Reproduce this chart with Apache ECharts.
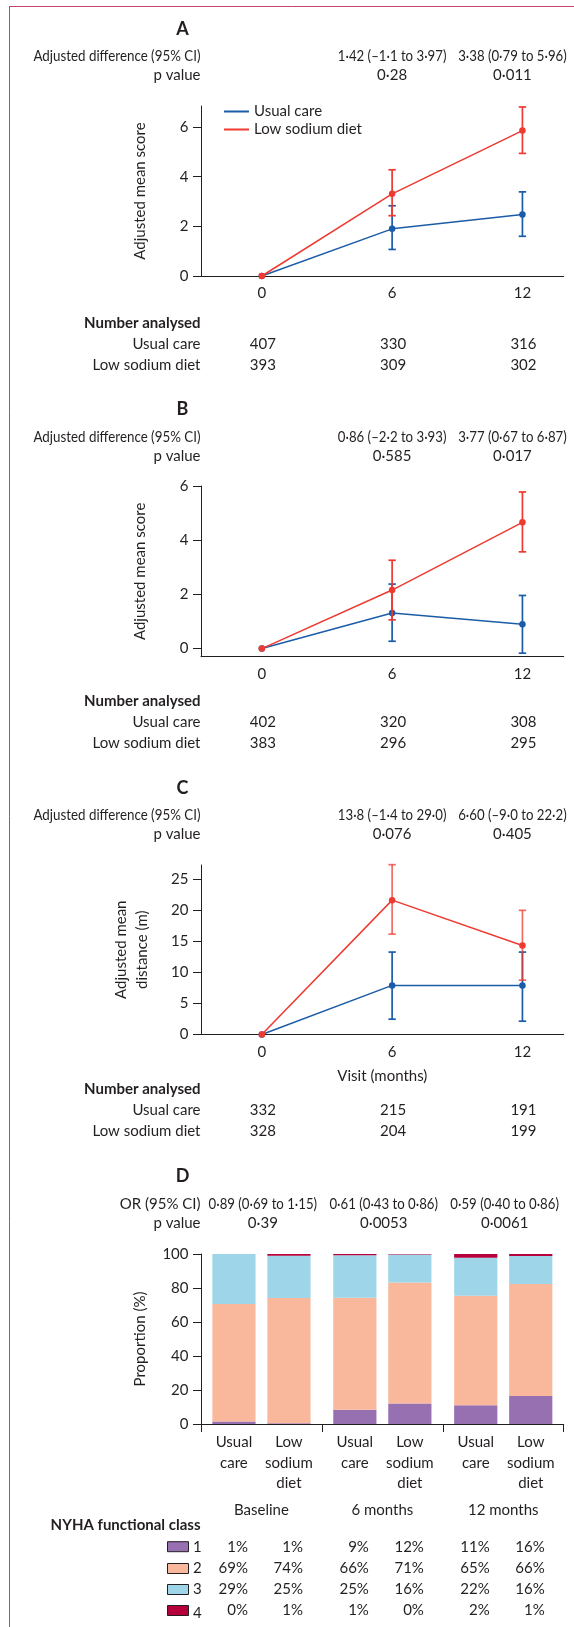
<!DOCTYPE html>
<html><head><meta charset="utf-8">
<script src="https://cdn.jsdelivr.net/npm/echarts@6/dist/echarts.min.js"></script>
<style>html,body{margin:0;padding:0;background:#fff}#c{width:574px;height:1627px}</style>
</head><body><div id="c"></div>
<script>
// ---------- DATA ----------
const months = [0, 6, 12];
const monthTicks = [0, 6, 12];

// Panel A
const aUsual = [0, 1.90, 2.48], aUsualLo = [null, 1.07, 1.60], aUsualHi = [null, 2.83, 3.39];
const aLow = [0, 3.31, 5.86], aLowLo = [null, 2.43, 4.94], aLowHi = [null, 4.28, 6.81];
const aTicks = [0, 2, 4, 6];
const aDiff = ['1·42 (–1·1 to 3·97)', '3·38 (0·79 to 5·96)'];
const aP = ['0·28', '0·011'];
const aNUsual = ['407', '330', '316'], aNLow = ['393', '309', '302'];

// Panel B
const bUsual = [0, 1.31, 0.90], bUsualLo = [null, 0.27, -0.17], bUsualHi = [null, 2.38, 1.96];
const bLow = [0, 2.16, 4.66], bLowLo = [null, 1.06, 3.57], bLowHi = [null, 3.26, 5.78];
const bTicks = [0, 2, 4, 6];
const bDiff = ['0·86 (–2·2 to 3·93)', '3·77 (0·67 to 6·87)'];
const bP = ['0·585', '0·017'];
const bNUsual = ['402', '320', '308'], bNLow = ['383', '296', '295'];

// Panel C
const cUsual = [0, 7.89, 7.89], cUsualLo = [null, 2.46, 2.14], cUsualHi = [null, 13.25, 13.25];
const cLow = [0, 21.6, 14.32], cLowLo = [null, 16.14, 8.74], cLowHi = [null, 27.3, 19.96];
const cTicks = [0, 5, 10, 15, 20, 25];
const cDiff = ['13·8 (–1·4 to 29·0)', '6·60 (–9·0 to 22·2)'];
const cP = ['0·076', '0·405'];
const cNUsual = ['332', '215', '191'], cNLow = ['328', '204', '199'];

// Panel D (bars: usual/low per visit)
const visits = ['Baseline', '6 months', '12 months'];
const dOR = ['0·89 (0·69 to 1·15)', '0·61 (0·43 to 0·86)', '0·59 (0·40 to 0·86)'];
const dP = ['0·39', '0·0053', '0·0061'];
const nyhaClasses = ['1', '2', '3', '4'];
// bar order: usual baseline, low baseline, usual 6m, low 6m, usual 12m, low 12m
const nyha1 = [1.4, 0.4, 8.4, 12.1, 11.0, 16.5];
const nyha2 = [69.2, 73.7, 65.9, 71.2, 64.5, 65.9];
const nyha3 = [29.4, 24.9, 24.9, 16.4, 22.3, 16.4];
const nyha4 = [0, 1.0, 0.8, 0.3, 2.2, 1.2];
const nyha1Lbl = ['1%', '1%', '9%', '12%', '11%', '16%'];
const nyha2Lbl = ['69%', '74%', '66%', '71%', '65%', '66%'];
const nyha3Lbl = ['29%', '25%', '25%', '16%', '22%', '16%'];
const nyha4Lbl = ['0%', '1%', '1%', '0%', '2%', '1%'];
const dTicks = [0, 20, 40, 60, 80, 100];

// ---------- STYLE ----------
const FONT = 'Lato';
const INK = '#231f20';
const BLUE = '#1b5ca8';
const RED = '#ee3a31';
const NYHA_COLORS = ['#9670b0', '#f9b89c', '#9ed5e8', '#b5003b'];
const FS = 15;
const GL = 201, GW = 362.7;

const chart = echarts.init(document.getElementById('c'), null, {renderer: 'canvas', width: 574, height: 1627});

function pairs(ys) { return months.map((m, i) => [m, ys[i]]); }
function errs(lo, hi) { return months.map((m, i) => lo[i] == null ? null : [m, lo[i], hi[i]]).filter(Boolean); }
function errRender(color, opacity) {
  return function (params, api) {
    const x = api.value(0), lo = api.value(1), hi = api.value(2);
    const p1 = api.coord([x, hi]), p2 = api.coord([x, lo]);
    const w = 3.7;
    const style = {stroke: color, lineWidth: 1.7, opacity: opacity};
    return {type: 'group', children: [
      {type: 'line', shape: {x1: p1[0], y1: p1[1], x2: p2[0], y2: p2[1]}, style: style},
      {type: 'line', shape: {x1: p1[0] - w, y1: p1[1], x2: p1[0] + w, y2: p1[1]}, style: style},
      {type: 'line', shape: {x1: p2[0] - w, y1: p2[1], x2: p2[0] + w, y2: p2[1]}, style: style}
    ]};
  };
}
function lineSeries(name, color, ys, idx, z) {
  return {type: 'line', name: name, xAxisIndex: idx, yAxisIndex: idx, data: pairs(ys),
    symbol: 'circle', symbolSize: 6.5, showSymbol: true, lineStyle: {width: 1.5, color: color},
    itemStyle: {color: color}, z: z, silent: true};
}
function errSeries(color, lo, hi, idx, z, opacity) {
  return {type: 'custom', xAxisIndex: idx, yAxisIndex: idx, data: errs(lo, hi),
    renderItem: errRender(color, opacity == null ? 1 : opacity), encode: {x: 0, y: [1, 2]}, z: z, silent: true};
}
const labelBase = {color: INK, fontFamily: FONT, fontSize: FS};
function xValAxis(grid, extra) {
  return Object.assign({type: 'value', gridIndex: grid, min: -2.8, max: 13.9,
    axisLine: {show: true, onZero: false, lineStyle: {color: INK, width: 1}},
    axisTick: {show: false},
    axisLabel: Object.assign({customValues: monthTicks, margin: 10}, labelBase),
    splitLine: {show: false}}, extra || {});
}
function yValAxis(grid, min, max, ticks, name, extra) {
  return Object.assign({type: 'value', gridIndex: grid, min: min, max: max,
    axisLine: {show: true, onZero: false, lineStyle: {color: INK, width: 1}},
    axisTick: {show: true, inside: false, length: 8, customValues: ticks, lineStyle: {color: INK, width: 1}},
    axisLabel: Object.assign({customValues: ticks, margin: 12.5}, labelBase),
    splitLine: {show: false},
    name: name, nameLocation: 'middle', nameGap: 50,
    nameTextStyle: {color: INK, fontFamily: FONT, fontSize: FS, lineHeight: 21}}, extra || {});
}

const series = [
  errSeries(BLUE, aUsualLo, aUsualHi, 0, 2), lineSeries('Usual care', BLUE, aUsual, 0, 3),
  errSeries(RED, aLowLo, aLowHi, 0, 4), lineSeries('Low sodium diet', RED, aLow, 0, 5),
  errSeries(BLUE, bUsualLo, bUsualHi, 1, 2), lineSeries('Usual care', BLUE, bUsual, 1, 3),
  errSeries(RED, bLowLo, bLowHi, 1, 4), lineSeries('Low sodium diet', RED, bLow, 1, 5),
  errSeries(BLUE, cUsualLo, cUsualHi, 2, 2), lineSeries('Usual care', BLUE, cUsual, 2, 3),
  errSeries(RED, cLowLo, cLowHi, 2, 4, 0.75), lineSeries('Low sodium diet', RED, cLow, 2, 5)
];
const nyhaAll = [nyha1, nyha2, nyha3, nyha4];
nyhaAll.forEach((arr, k) => {
  series.push({type: 'bar', name: 'NYHA ' + nyhaClasses[k] + ' usual', xAxisIndex: 3, yAxisIndex: 3,
    stack: 'usual', data: [arr[0], arr[2], arr[4]], barWidth: 43.2, barGap: '27.3%',
    itemStyle: {color: NYHA_COLORS[k]}, silent: true});
  series.push({type: 'bar', name: 'NYHA ' + nyhaClasses[k] + ' low', xAxisIndex: 3, yAxisIndex: 3,
    stack: 'low', data: [arr[1], arr[3], arr[5]], barWidth: 43.2, barGap: '27.3%',
    itemStyle: {color: NYHA_COLORS[k]}, silent: true});
});

const richCell = {width: 55, align: 'center', fontFamily: FONT, fontSize: FS, color: INK, lineHeight: 20.5};
const option = {
  animation: false,
  backgroundColor: '#fff',
  textStyle: {fontFamily: FONT, color: INK},
  grid: [
    {left: GL, top: 106, width: GW, height: 170, outerBoundsMode: 'none'},
    {left: GL, top: 486, width: GW, height: 170.7, outerBoundsMode: 'none'},
    {left: GL, top: 865, width: GW, height: 169.5, outerBoundsMode: 'none'},
    {left: GL, top: 1254, width: GW, height: 170, outerBoundsMode: 'none'}
  ],
  legend: {left: 219, top: 99, orient: 'vertical', itemWidth: 25, itemHeight: 2, itemGap: 3,
    icon: 'rect', selectedMode: false, data: ['Usual care', 'Low sodium diet'],
    textStyle: {fontFamily: FONT, fontSize: FS, color: INK}},
  xAxis: [
    xValAxis(0), xValAxis(1),
    xValAxis(2, {name: 'Visit (months)', nameLocation: 'middle', nameGap: 34,
      nameTextStyle: {color: INK, fontFamily: FONT, fontSize: FS}}),
    {type: 'category', gridIndex: 3, data: visits,
      axisLine: {show: true, onZero: false, lineStyle: {color: INK, width: 1}},
      axisTick: {show: true, length: 8, lineStyle: {color: INK, width: 1}},
      axisLabel: {interval: 0, margin: 8, color: INK,
        formatter: v => '{a|Usual}{b|Low}\n{a|care}{b|sodium}\n{a| }{b|diet}\n{c|' + v + '}',
        rich: {a: richCell, b: richCell, c: Object.assign({}, richCell, {width: 110, lineHeight: 33})}},
      splitLine: {show: false}}
  ],
  yAxis: [
    yValAxis(0, 0, 6.85, aTicks, 'Adjusted mean score'),
    yValAxis(1, -0.3, 6, bTicks, 'Adjusted mean score'),
    yValAxis(2, 0, 27.25, cTicks, 'Adjusted mean\ndistance (m)', {nameGap: 48}),
    yValAxis(3, 0, 100, dTicks, 'Proportion (%)', {interval: 20})
  ],
  series: series
};
chart.setOption(option);

// ---------- TEXT TABLES (positions from the axes) ----------
function T(text, x, y, o) {
  o = o || {};
  const el = {type: 'text', silent: true, z: 10, x: x, y: y, style: {text: text, x: 0, y: 0, fill: INK,
    fontFamily: FONT, fontSize: o.size || FS, fontWeight: o.bold ? 'bold' : 'normal',
    align: o.align || 'center', verticalAlign: 'middle'}};
  if (o.sx) el.scaleX = o.sx;
  return el;
}
const px = (axis, v) => chart.convertToPixel({xAxisIndex: axis}, v);
const g = [];
// frame
g.push({type: 'line', silent: true, shape: {x1: 9.5, y1: 6.5, x2: 574, y2: 6.5}, style: {stroke: '#c8426f', lineWidth: 1}});
g.push({type: 'line', silent: true, shape: {x1: 9.5, y1: 6, x2: 9.5, y2: 1627}, style: {stroke: '#c8426f', lineWidth: 1}});

const RIGHT = 200.5;
const SQ = 0.88;
function linePanel(letter, axis, yL, yD, diffs, ps, nTitleY, nUsual, nLow) {
  g.push(T(letter, 182.5, yL, {bold: true, size: 18}));
  g.push(T('Adjusted difference (95% CI)', RIGHT, yD, {align: 'right', sx: 0.89}));
  g.push(T('p value', RIGHT, yD + 19, {align: 'right'}));
  const x6 = px(axis, 6), x12 = px(axis, 12) - 10;
  g.push(T(diffs[0], x6, yD, {sx: SQ})); g.push(T(diffs[1], x12, yD, {sx: SQ}));
  g.push(T(ps[0], x6, yD + 19)); g.push(T(ps[1], x12, yD + 19));
  g.push(T('Number analysed', RIGHT, nTitleY, {bold: true, align: 'right'}));
  g.push(T('Usual care', RIGHT, nTitleY + 21, {align: 'right'}));
  g.push(T('Low sodium diet', RIGHT, nTitleY + 42, {align: 'right'}));
  months.forEach((m, i) => {
    const x = px(axis, m) + 1;
    g.push(T(nUsual[i], x, nTitleY + 21));
    g.push(T(nLow[i], x, nTitleY + 42));
  });
}
linePanel('A', 0, 29, 56, aDiff, aP, 323, aNUsual, aNLow);
linePanel('B', 1, 409, 437.5, bDiff, bP, 701.5, bNUsual, bNLow);
linePanel('C', 2, 788, 815.5, cDiff, cP, 1089.5, cNUsual, cNLow);

// Panel D header
g.push(T('D', 182.5, 1176, {bold: true, size: 18}));
g.push(T('OR (95% CI)', RIGHT, 1204.3, {align: 'right'}));
g.push(T('p value', RIGHT, 1223.3, {align: 'right'}));
visits.forEach((v, i) => {
  const x = px(3, i) + 1.4;
  g.push(T(dOR[i], x, 1204.3, {sx: SQ}));
  g.push(T(dP[i], x, 1223.3));
});
// NYHA table
g.push(T('NYHA functional class', RIGHT, 1525, {bold: true, align: 'right'}));
const rowY = [1546.7, 1568.5, 1589.5, 1610.5];
const lbls = [nyha1Lbl, nyha2Lbl, nyha3Lbl, nyha4Lbl];
nyhaClasses.forEach((c, k) => {
  g.push({type: 'rect', silent: true, shape: {x: 167.5, y: rowY[k] - 5, width: 21, height: 10},
    style: {fill: NYHA_COLORS[k], stroke: INK, lineWidth: 1}});
  g.push(T(c, 193, rowY[k] + (k === 3 ? 3 : 0), {align: 'left'}));
  lbls[k].forEach((t, j) => {
    const cx = px(3, Math.floor(j / 2)) + (j % 2 === 0 ? -27.5 : 27.5);
    g.push(T(t, cx + 14, rowY[k], {align: 'right'}));
  });
});
chart.setOption({graphic: g});
</script>
</body></html>
